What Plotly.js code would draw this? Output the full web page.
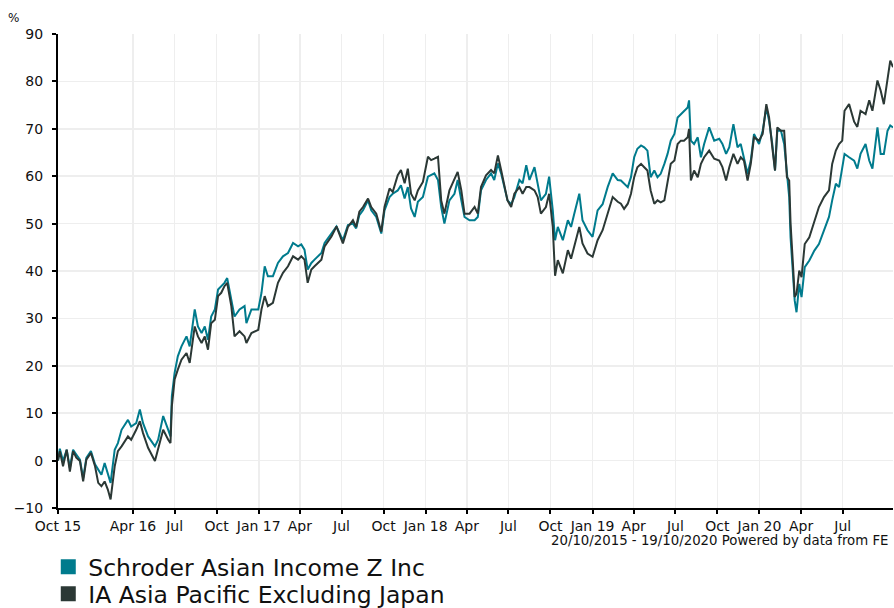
<!DOCTYPE html>
<html>
<head>
<meta charset="utf-8">
<script src="https://cdn.plot.ly/plotly-3.0.1.min.js"></script>
<style>html,body{margin:0;padding:0;background:#fff;}#chart{width:894px;height:608px;}</style>
</head>
<body>
<div id="chart"></div>
<script>
// Cumulative performance (%) from 20/10/2015
const dates = [
"2015-10-20","2015-10-24","2015-10-31","2015-11-08","2015-11-15","2015-11-22","2015-11-29","2015-12-07","2015-12-14","2015-12-21","2015-12-31",
"2016-01-09","2016-01-16","2016-01-23","2016-01-30","2016-02-06","2016-02-12","2016-02-21","2016-02-28","2016-03-07","2016-03-21","2016-03-28",
"2016-04-08","2016-04-16","2016-04-23","2016-05-04","2016-05-19","2016-05-26","2016-06-06","2016-06-17","2016-06-22","2016-06-25","2016-07-01",
"2016-07-08","2016-07-16","2016-07-27","2016-08-03","2016-08-07","2016-08-14","2016-08-21","2016-08-29","2016-09-05","2016-09-12","2016-09-19",
"2016-09-27","2016-10-04","2016-10-11","2016-10-18","2016-10-24","2016-11-02","2016-11-09","2016-11-20","2016-12-01","2016-12-05","2016-12-16",
"2016-12-31","2017-01-07","2017-01-14","2017-01-21","2017-02-01","2017-02-12","2017-02-23","2017-03-06","2017-03-17","2017-03-28","2017-04-04",
"2017-04-11","2017-04-18","2017-04-26","2017-05-03","2017-05-18","2017-05-25","2017-06-09","2017-06-20","2017-06-30",
"2017-07-04","2017-07-15","2017-07-26","2017-08-02","2017-08-09","2017-08-17","2017-08-28","2017-09-04","2017-09-15","2017-09-26","2017-10-03",
"2017-10-14","2017-10-21","2017-11-01","2017-11-08","2017-11-16","2017-11-23","2017-11-30","2017-12-08","2017-12-15","2017-12-26",
"2018-01-06","2018-01-13","2018-01-20","2018-01-28","2018-02-04","2018-02-11","2018-02-22","2018-03-05","2018-03-12","2018-03-20","2018-03-27",
"2018-04-07","2018-04-18","2018-04-25","2018-05-02","2018-05-13","2018-05-24","2018-05-31","2018-06-08","2018-06-15","2018-06-22","2018-06-29",
"2018-07-07","2018-07-14","2018-07-25","2018-08-01","2018-08-09","2018-08-16","2018-08-27","2018-09-03","2018-09-10","2018-09-21","2018-09-28",
"2018-10-06","2018-10-11","2018-10-17","2018-10-28","2018-11-08","2018-11-15","2018-11-22","2018-12-03","2018-12-10","2018-12-21",
"2019-01-01","2019-01-12","2019-01-23","2019-02-03","2019-02-14","2019-02-25","2019-03-04","2019-03-11","2019-03-19","2019-03-26",
"2019-04-02","2019-04-09","2019-04-17","2019-04-24","2019-05-01","2019-05-08","2019-05-16","2019-05-23","2019-05-30","2019-06-07","2019-06-14",
"2019-06-21","2019-06-29","2019-07-06","2019-07-13","2019-07-20","2019-07-28","2019-07-31","2019-08-04","2019-08-11","2019-08-19","2019-08-26",
"2019-09-02","2019-09-13","2019-09-24","2019-10-05","2019-10-12","2019-10-20","2019-10-27","2019-11-05","2019-11-14","2019-11-21","2019-11-28",
"2019-12-06","2019-12-13","2019-12-20","2019-12-31","2020-01-08","2020-01-16","2020-01-22","2020-01-29","2020-02-04","2020-02-09","2020-02-17",
"2020-02-24","2020-03-01","2020-03-06","2020-03-09","2020-03-15","2020-03-18","2020-03-22","2020-03-28","2020-04-02","2020-04-09","2020-04-19",
"2020-04-30","2020-05-10","2020-05-21","2020-06-01","2020-06-08","2020-06-16","2020-06-23","2020-06-30","2020-07-05","2020-07-15","2020-07-26",
"2020-08-02","2020-08-09","2020-08-20","2020-08-28","2020-09-04","2020-09-15","2020-09-22","2020-09-29","2020-10-07","2020-10-13","2020-10-19"
];

const schroderValues = [
0,2.5,-0.1,2.3,-1.5,2.3,1.3,0.2,-3.7,0.6,2.0,
-0.8,-1.9,-3.0,-0.5,-3.0,-4.7,2.3,3.7,6.5,8.6,7.2,
7.9,10.8,7.9,5.1,3.0,4.4,9.4,6.5,5.1,13.6,18.5,
22.0,24.1,26.2,24.1,26.9,31.9,28.3,26.9,28.3,25.5,30.4,
31.9,36.1,36.8,37.5,38.5,34.0,30.4,31.9,32.6,29.0,31.9,
31.9,35.4,41.0,38.9,38.9,41.7,43.1,43.8,45.9,45.2,45.6,
44.5,40.3,41.7,42.4,43.8,45.9,48.0,49.4,47.3,
46.5,49.7,50.0,49.0,51.8,52.8,54.9,52.8,51.4,47.9,52.8,
55.6,56.3,57.0,58.1,55.3,57.7,53.2,51.4,54.6,55.6,
59.9,60.2,60.6,59.2,53.5,50.0,54.9,56.3,59.2,54.9,51.4,
50.7,50.7,51.4,57.0,59.2,60.6,59.2,62.7,60.6,57.7,54.9,
54.1,55.6,59.2,58.5,62.3,59.2,61.9,58.5,54.9,56.3,59.9,
52.8,46.5,49.3,46.5,50.7,49.3,52.1,56.3,50.7,48.6,
47.2,52.8,54.1,57.7,60.6,59.2,59.1,58.4,57.7,59.8,
64.0,65.8,66.5,66.1,65.4,59.8,61.2,59.8,60.5,62.6,64.7,
67.5,68.9,72.4,73.1,73.8,74.5,76.0,67.5,66.8,68.2,64.0,
66.8,70.3,67.5,67.9,66.8,64.7,66.1,71.0,66.1,66.8,64.0,
60.5,63.3,68.9,66.8,69.6,74.5,71.7,66.8,61.2,69.6,69.6,
66.8,59.8,55.6,47.1,37.3,33.8,31.3,37.3,34.5,40.8,42.2,
44.3,45.7,48.5,51.4,54.9,58.4,57.7,61.9,64.7,64.0,63.3,
61.6,64.7,66.8,63.3,61.6,70.3,64.7,64.7,69.6,70.7,70.3
];

const sectorValues = [
0,2.0,-1.2,2.3,-2.3,2.0,0.6,-0.1,-4.4,0.2,1.6,
-1.2,-4.7,-5.4,-4.4,-6.1,-8.2,-1.2,2.0,3.0,5.1,4.4,
6.5,8.3,5.8,2.7,-0.1,2.3,6.5,4.4,3.7,11.5,17.1,
19.2,21.3,22.7,20.6,23.4,28.3,26.2,24.8,26.2,23.4,29.0,
29.7,34.7,35.4,36.8,37.5,32.6,26.2,27.3,26.2,24.8,26.9,
27.6,31.9,34.7,32.6,33.3,37.5,39.6,41.0,43.1,42.4,43.1,
42.4,37.5,40.3,41.0,42.4,45.2,47.3,49.4,46.6,
45.8,49.3,50.7,49.3,52.5,53.5,55.3,53.5,52.1,48.3,53.5,
57.4,56.7,60.2,61.3,58.5,61.6,56.3,54.9,57.0,58.8,
64.1,63.4,63.7,64.1,54.9,52.1,57.0,59.2,60.9,57.0,52.1,
52.1,53.5,52.1,57.7,60.2,61.3,60.6,64.4,61.3,57.7,54.9,
53.5,56.3,57.7,56.3,57.7,57.7,57.0,55.6,52.1,53.5,56.3,
49.3,39.0,42.3,39.5,44.4,42.6,45.1,49.3,45.8,43.7,
43.0,46.5,48.6,52.1,55.6,54.6,54.2,53.1,54.2,56.3,
59.8,61.9,62.6,61.9,61.2,57.0,54.2,54.9,54.5,54.9,59.1,
62.6,63.3,66.8,67.5,67.5,68.2,70.0,59.1,61.2,59.8,62.6,
64.0,65.4,63.7,63.3,61.9,59.1,61.9,64.7,62.6,64.0,63.3,
59.1,62.6,68.2,67.5,68.9,75.2,72.4,66.1,61.2,70.3,69.6,
69.6,59.8,59.1,50.0,40.1,34.5,35.2,40.1,38.7,45.7,47.1,
50.7,53.5,55.6,57.0,62.6,65.4,66.8,67.5,73.8,75.2,71.5,
70.4,73.8,73.1,76.0,73.8,80.2,78.1,75.2,80.9,84.4,83.0
];

const seriesNames = ["Schroder Asian Income Z Inc", "IA Asia Pacific Excluding Japan"];
const seriesColors = ["#007b8d", "#2b3835"];

const tickDates = ["2015-10-20","2016-04-01","2016-07-01","2016-10-01","2017-01-01","2017-04-01","2017-07-01","2017-10-01",
"2018-01-01","2018-04-01","2018-07-01","2018-10-01","2019-01-01","2019-04-01","2019-07-01","2019-10-01","2020-01-01","2020-04-01","2020-07-01"];
const tickLabels = ["Oct 15","Apr 16","Jul","Oct","Jan 17","Apr","Jul","Oct","Jan 18","Apr","Jul","Oct","Jan 19","Apr","Jul","Oct","Jan 20","Apr","Jul"];

const footerText = "20/10/2015 - 19/10/2020 Powered by data from FE";
const yUnit = "%";

const FONT = "DejaVu Sans, Verdana, sans-serif";

const traces = [
  {x: dates, y: schroderValues, type: "scatter", mode: "lines", name: seriesNames[0],
   line: {color: seriesColors[0], width: 2}, showlegend: false, hoverinfo: "x+y"},
  {x: dates, y: sectorValues, type: "scatter", mode: "lines", name: seriesNames[1],
   line: {color: seriesColors[1], width: 2}, showlegend: false, hoverinfo: "x+y"},
  {x: [null], y: [null], type: "scatter", mode: "markers", name: seriesNames[0], legend: "legend",
   marker: {symbol: "square", size: 15, color: seriesColors[0]}, showlegend: true},
  {x: [null], y: [null], type: "scatter", mode: "markers", name: seriesNames[1], legend: "legend2",
   marker: {symbol: "square", size: 15, color: seriesColors[1]}, showlegend: true}
];

const axisCommon = {
  showgrid: true, gridcolor: "#eeeeee", gridwidth: 1.5,
  showline: true, linecolor: "#000", linewidth: 2,
  ticks: "outside", ticklen: 4, tickwidth: 2, tickcolor: "#000",
  zeroline: false, fixedrange: true, automargin: false,
  tickfont: {family: FONT, size: 14, color: "#111"}
};

const legendCommon = {
  orientation: "v", xref: "container", yref: "container",
  xanchor: "left", yanchor: "top",
  font: {family: FONT, size: 23.5, color: "#111"},
  itemsizing: "trace", bgcolor: "rgba(0,0,0,0)", borderwidth: 0
};

const layout = {
  width: 894, height: 608,
  margin: {l: 58, r: 1, t: 34, b: 100, autoexpand: false},
  paper_bgcolor: "#ffffff", plot_bgcolor: "#ffffff",
  font: {family: FONT, size: 13, color: "#111"},
  xaxis: Object.assign({}, axisCommon, {
    type: "date", range: ["2015-10-20", "2020-10-19"],
    tickmode: "array", tickvals: tickDates, ticktext: tickLabels, tickangle: 0
  }),
  yaxis: Object.assign({}, axisCommon, {
    range: [-10, 90], tick0: 0, dtick: 10, ticklabelstandoff: 6
  }),
  showlegend: true,
  legend: Object.assign({}, legendCommon, {x: 0.054, y: 0.1035}),
  legend2: Object.assign({}, legendCommon, {x: 0.054, y: 0.0592}),
  annotations: [
    {text: yUnit, xref: "paper", yref: "paper", x: -0.0527, y: 1.034, xanchor: "center", yanchor: "middle",
     showarrow: false, font: {family: FONT, size: 12, color: "#111"}},
    {text: footerText, xref: "paper", yref: "paper", x: 0.9964, y: -0.0696, xanchor: "right", yanchor: "middle",
     showarrow: false, font: {family: FONT, size: 13.3, color: "#111"}}
  ]
};

Plotly.newPlot("chart", traces, layout, {displayModeBar: false, staticPlot: true});
</script>
</body>
</html>
